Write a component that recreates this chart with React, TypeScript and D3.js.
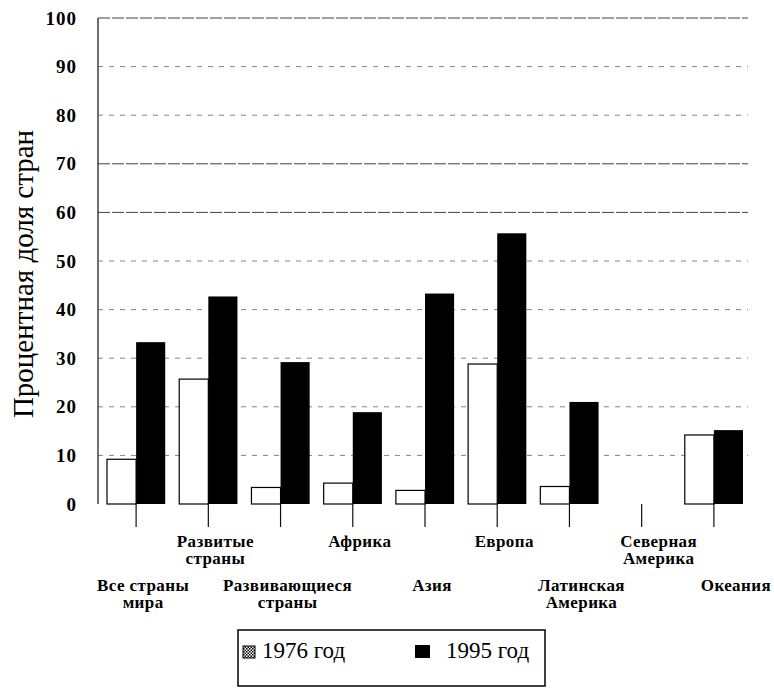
import React from "react";
import * as d3 from "d3";

const categories = [
  ["Все страны", "мира"],
  ["Развитые", "страны"],
  ["Развивающиеся", "страны"],
  ["Африка"],
  ["Азия"],
  ["Европа"],
  ["Латинская", "Америка"],
  ["Северная", "Америка"],
  ["Океания"],
];
const values1976 = [9.2, 25.7, 3.4, 4.3, 2.8, 28.8, 3.6, 0, 14.2];
const values1995 = [33.3, 42.7, 29.2, 18.9, 43.3, 55.7, 21, 0, 15.2];
const yTicks = [0, 10, 20, 30, 40, 50, 60, 70, 80, 90, 100];
const seriesNames = ["1976 год", "1995 год"];
const yTitle = "Процентная доля стран";

const W = 774;
const H = 689;
const serif = "Liberation Serif";

export default function App() {
  const x = d3.scaleBand<number>().domain(d3.range(categories.length)).range([100, 750]);
  const y = d3.scaleLinear().domain([0, 100]).range([504, 18]);
  const inner = d3.scaleBand<number>().domain([0, 1]).range([7, x.bandwidth() - 7]);
  const axisX = 98;
  const gridRight = 748;
  const labelShift = (i: number) => 7 + Math.max(0, i - 5) * 5;

  return (
    <svg width={W} height={H} style={{ position: "absolute", left: 0, top: 0, background: "#fff" }}>
      <defs>
        <pattern id="chk" width="3" height="3" patternUnits="userSpaceOnUse">
          <rect width="3" height="3" fill="#fff" />
          <rect width="1.5" height="1.5" fill="#000" />
          <rect x="1.5" y="1.5" width="1.5" height="1.5" fill="#000" />
        </pattern>
      </defs>
      {yTicks.filter((t) => t > 0).map((t) => {
        const strong = t === 100 || t === 70 || t === 60;
        return (
          <line key={t} x1={axisX} x2={gridRight} y1={y(t)} y2={y(t)} stroke="#222" strokeWidth={1}
            strokeDasharray={strong ? "12,2" : "5,6"} opacity={strong ? 0.85 : 0.55} />
        );
      })}
      <line x1={axisX} x2={axisX} y1={y(100)} y2={y(0)} stroke="#111" strokeWidth={1.2} />
      {yTicks.map((t) => (
        <text key={t} x={77} y={y(t)} dy="0.35em" textAnchor="end" fontFamily={serif} fontWeight="bold" fontSize={19} letterSpacing={1}>
          {t}
        </text>
      ))}
      <text transform={`translate(33,274) rotate(-90)`} textAnchor="middle" fontFamily={serif} fontSize={29}>
        {yTitle}
      </text>
      {categories.map((_, i) => {
        const x0 = x(i)!;
        return (
          <g key={i}>
            {values1976[i] > 0 && (
              <rect x={x0 + inner(0)!} y={y(values1976[i])} width={inner.bandwidth()} height={y(0) - y(values1976[i])}
                fill="#fff" stroke="#000" strokeWidth={1.2} />
            )}
            {values1995[i] > 0 && (
              <rect x={x0 + inner(1)!} y={y(values1995[i])} width={inner.bandwidth()} height={y(0) - y(values1995[i])} fill="#000" />
            )}
            <line x1={x0 + inner(1)!} x2={x0 + inner(1)!} y1={y(0)} y2={y(0) + 23} stroke="#111" strokeWidth={1.2} />
          </g>
        );
      })}
      {categories.map((lines, i) => {
        const cx = x(i)! + inner(1)! + labelShift(i);
        const baseY = i % 2 === 1 ? 547 : 591;
        return (
          <g key={i}>
            {lines.map((l, j) => (
              <text key={j} x={cx} y={baseY + j * 17} textAnchor="middle" fontFamily={serif} fontWeight="bold" fontSize={17} letterSpacing={0.4}>
                {l}
              </text>
            ))}
          </g>
        );
      })}
      <rect x={238} y={630} width={307} height={56} fill="#fff" stroke="#000" strokeWidth={1.5} />
      <rect x={243} y={646} width={12} height={12} fill="url(#chk)" stroke="#000" strokeWidth={1} />
      <text x={262} y={658} fontFamily={serif} fontSize={23}>{seriesNames[0]}</text>
      <rect x={415} y={645} width={15} height={13} fill="#000" />
      <text x={446} y={658} fontFamily={serif} fontSize={23}>{seriesNames[1]}</text>
    </svg>
  );
}
